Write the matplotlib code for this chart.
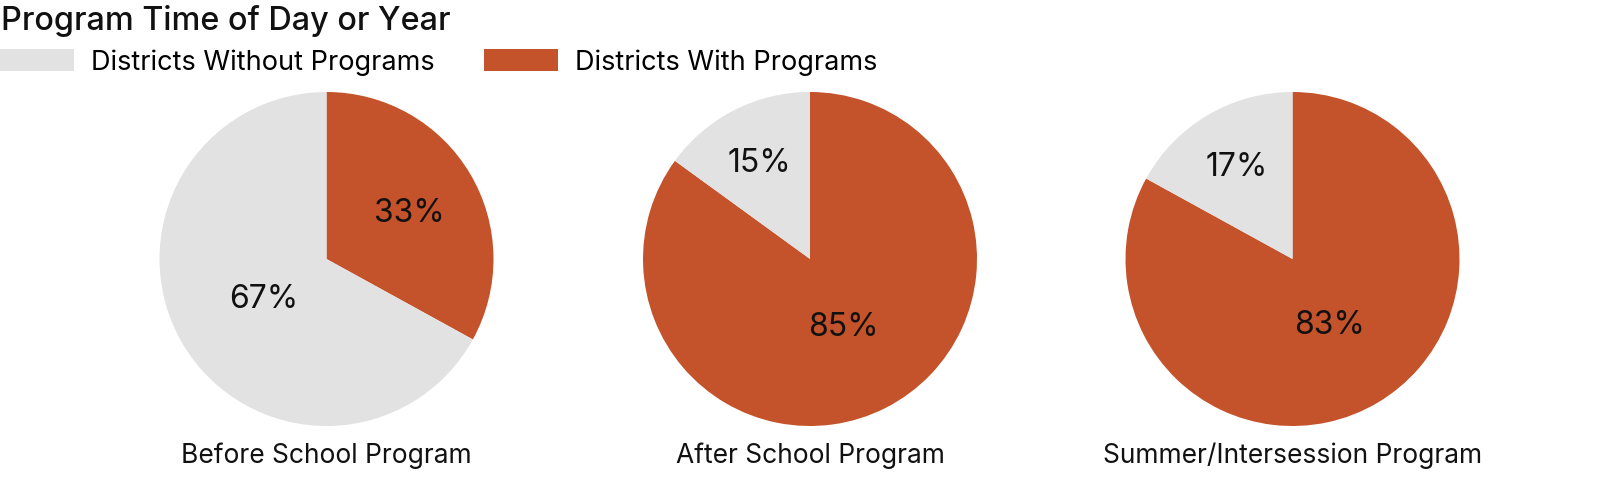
import numpy as np
import matplotlib
matplotlib.use("Agg")
import matplotlib.pyplot as plt

plt.rcParams['font.family'] = ['Inter', 'DejaVu Sans']

categories = ["Before School Program", "After School Program", "Summer/Intersession Program"]
with_programs = [33, 85, 83]
without_programs = [67, 15, 17]
series_names = ["Districts Without Programs", "Districts With Programs"]
colors = {"without": "#E2E2E2", "with": "#C4522A"}
title = "Program Time of Day or Year"

W, H = 1620, 488
fig = plt.figure(figsize=(W / 100, H / 100), dpi=100)

R = 167  # pie radius in px
centers_x = [326.5, 810, 1292.5]
center_y_from_top = 259

wedges_for_legend = None
for i, cat in enumerate(categories):
    cx = centers_x[i]
    left = (cx - R) / W
    bottom = (H - center_y_from_top - R) / H
    ax = fig.add_axes([left, bottom, 2 * R / W, 2 * R / H])
    vals = [with_programs[i], without_programs[i]]
    wedges, _ = ax.pie(vals, colors=[colors["with"], colors["without"]],
                       startangle=90, counterclock=False, radius=1,
                       wedgeprops=dict(linewidth=0))
    ax.set_xlim(-1, 1)
    ax.set_ylim(-1, 1)
    ax.set_aspect('auto')
    ax.axis('off')
    for w, v in zip(wedges, vals):
        theta = np.deg2rad(w.theta2 - w.theta1)
        mid = np.deg2rad((w.theta1 + w.theta2) / 2)
        if v < 50:
            r = 4 * np.sin(theta / 2) / (3 * theta) + 0.025
        else:
            r = 0.44
        ax.text(r * np.cos(mid), r * np.sin(mid), f"{v}%", ha='center', va='center_baseline',
                fontsize=23, color='#111111')
    fig.text(cx / W, 1 - 453 / H, cat, ha='center', va='center_baseline', fontsize=19,
             color='#111111')
    if wedges_for_legend is None:
        wedges_for_legend = wedges

fig.text(1 / W, 1 - 30 / H, title, ha='left', va='baseline', fontsize=23.3,
         fontweight='medium', color='#111111')

fig.legend([wedges_for_legend[1], wedges_for_legend[0]], series_names,
           loc='upper left', bbox_to_anchor=(0, 1 - 49 / H), ncol=2, frameon=False,
           fontsize=19.5, handlelength=2.74, handleheight=0.87, handletextpad=0.63,
           columnspacing=1.81, borderpad=0, borderaxespad=0)

fig.savefig("out.png", dpi=100)
